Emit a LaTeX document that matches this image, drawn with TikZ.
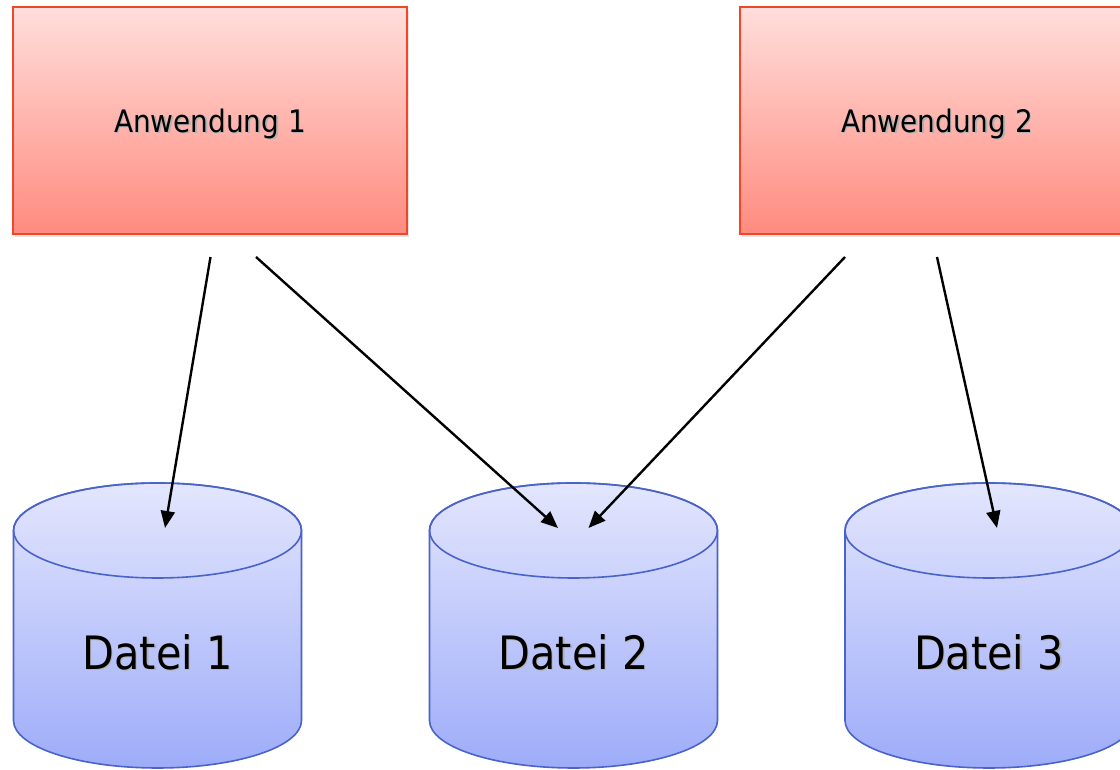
\documentclass[tikz,border=0pt]{standalone}
\usepackage{fontspec}
\setmainfont{DejaVu Sans}[FakeStretch=0.9]
\usetikzlibrary{arrows.meta,shadows}
\definecolor{boxtop}{HTML}{FFDEDB}
\definecolor{boxbot}{HTML}{FF8B7F}
\definecolor{boxline}{HTML}{F0462A}
\definecolor{cyltop}{HTML}{E3E6FD}
\definecolor{cylbot}{HTML}{9EACF9}
\definecolor{cylline}{HTML}{4A63C9}
\newcommand{\shtext}[1]{\leavevmode\rlap{\kern1.4pt\raisebox{-1.4pt}{\textcolor{black!30}{#1}}}#1}
\begin{document}
\begin{tikzpicture}[x=1pt,y=1pt,
  appbox/.style={draw=boxline, line width=1.7pt, top color=boxtop, bottom color=boxbot,
    minimum width=394pt, minimum height=227pt, inner sep=0pt, text depth=0pt,
    font=\fontsize{31}{31}\selectfont,
    drop shadow={shadow xshift=1.5pt, shadow yshift=-3.5pt, opacity=0.22}},
  cylbody/.style={draw=cylline, line width=1.6pt, top color=cyltop, bottom color=cylbot},
  cylrim/.style={draw=cylline, line width=1.6pt},
  cyllabel/.style={font=\fontsize{46}{46}\selectfont, inner sep=0pt},
  conn/.style={line width=2.4pt, -{Triangle[length=17pt,width=14pt]}}]
\useasboundingbox (0,0) rectangle (1120,770);
\clip (0,0) rectangle (1120,770);

% applications
\node[appbox] (a1) at (210,649.5) {\shtext{Anwendung 1}};
\node[appbox] (a2) at (937,649.5) {\shtext{Anwendung 2}};

% files (cylinders)
\foreach \cx/\nm/\lab in {157.5/d1/Datei 1, 573.5/d2/Datei 2, 989/d3/Datei 3}{
  \path[cylbody] (\cx-144,239.5) arc[start angle=180,end angle=0,x radius=144,y radius=47.5]
     -- (\cx+144,49.5) arc[start angle=0,end angle=-180,x radius=144,y radius=47.5] -- cycle;
  \draw[cylrim] (\cx,239.5) ellipse [x radius=144, y radius=47.5];
  \node[cyllabel] (\nm) at (\cx,117) {\shtext{\lab}};
}

% connector end points
\coordinate (s1) at (210.5,513);
\coordinate (e1) at (165,242);
\coordinate (s2) at (256,513);
\coordinate (e2) at (558,242);
\coordinate (s3) at (845,513);
\coordinate (e3) at (588.5,242);
\coordinate (s4) at (937,513);
\coordinate (e4) at (997,242);

\draw[conn] (s1) -- (e1);
\draw[conn] (s2) -- (e2);
\draw[conn] (s3) -- (e3);
\draw[conn] (s4) -- (e4);
\end{tikzpicture}
\end{document}
